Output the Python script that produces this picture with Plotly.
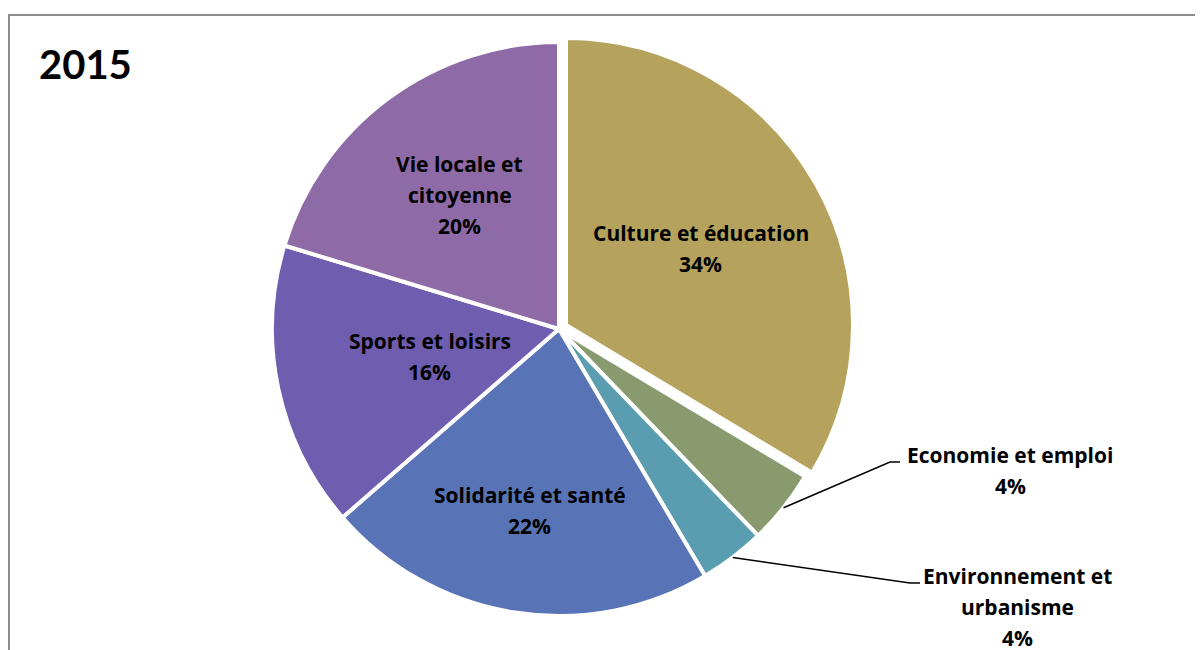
import math
import plotly.graph_objects as go

# ---- data ----
categories = ["Culture et éducation", "Economie et emploi", "Environnement et urbanisme",
              "Solidarité et santé", "Sports et loisirs", "Vie locale et citoyenne"]
wrapped = ["Culture et éducation", "Economie et emploi", "Environnement et<br>urbanisme",
           "Solidarité et santé", "Sports et loisirs", "Vie locale et<br>citoyenne"]
values = [33.6, 4.2, 3.7, 22.1, 16.1, 20.3]
colors = ["#B5A25C", "#8A9A6F", "#5B9DB0", "#5874B7", "#6F5DB0", "#8E6AA6"]
outside = [False, True, True, False, False, False]
pulls = [0.028, 0, 0, 0, 0, 0]
label_radius = [0.54, 0, 0, 0.64, 0.46, 0.58]   # fraction of radius for inside labels

W, H = 1203, 650
OFF = 8  # page body margin offset of the plot div
total = sum(values)


def px(x):
    return (x - OFF) / W


def py(y):
    return 1 - (y - OFF) / H


# pie geometry (page pixels)
cx, cy, R = 559, 329, 287
maxpull = max(pulls)
half = R * (1 + maxpull)
dom_x = [px(cx - half - 20), px(cx + half + 20)]
dom_y = [py(cy + half), py(cy - half)]

fig = go.Figure(go.Pie(
    labels=categories, values=values, textinfo="none",
    sort=False, direction="clockwise", rotation=0, pull=pulls,
    marker=dict(colors=colors, line=dict(color="white", width=4)),
    domain=dict(x=dom_x, y=dom_y), showlegend=False, hoverinfo="label+percent",
))

FONT = dict(family="Open Sans, Lato, sans-serif", size=21, color="black", weight="bold")
LINE_H = 31

label_pos = {1: (1010, 470), 2: (1017, 607)}
elbow = {1: (890, 462), 2: (910, 583)}
cum = 0
shapes = []
annotations = []


def add_label(lines, x, y):
    n = len(lines)
    for k, t in enumerate(lines):
        yy = y + (k - (n - 1) / 2) * LINE_H
        annotations.append(dict(x=px(x), y=py(yy), xref="paper", yref="paper", text=t,
                                showarrow=False, font=FONT, xanchor="center", yanchor="middle"))


for i, v in enumerate(values):
    start = cum / total * 360
    cum += v
    end = cum / total * 360
    mid = math.radians((start + end) / 2)
    lines = wrapped[i].split("<br>") + [f"{round(v / total * 100)}%"]
    if outside[i]:
        ax = cx + R * math.sin(mid)
        ay = cy - R * math.cos(mid)
        ex, ey = elbow[i]
        path = f"M {px(ax)},{py(ay)} L {px(ex)},{py(ey)} L {px(ex + 10)},{py(ey)}"
        shapes.append(dict(type="path", xref="paper", yref="paper", path=path,
                           line=dict(color="black", width=1.5)))
        add_label(lines, *label_pos[i])
    else:
        pr = R * pulls[i]
        r = R * label_radius[i] + pr
        add_label(lines, cx + r * math.sin(mid), cy - r * math.cos(mid))

# frame
shapes.append(dict(type="rect", xref="paper", yref="paper", x0=px(9), x1=px(1201),
                   y0=-0.1, y1=py(15), line=dict(color="#8c8c8c", width=2)))

annotations.append(dict(x=px(37), y=py(64), xref="paper", yref="paper", text="2015",
                        showarrow=False, xanchor="left", yanchor="middle",
                        font=dict(family="Lato, Open Sans, sans-serif", size=40,
                                  color="black", weight="bold")))

fig.update_layout(width=W, height=H, margin=dict(l=0, r=0, t=0, b=0),
                  paper_bgcolor="white", plot_bgcolor="white",
                  shapes=shapes, annotations=annotations)

fig.write_html("out.html")
